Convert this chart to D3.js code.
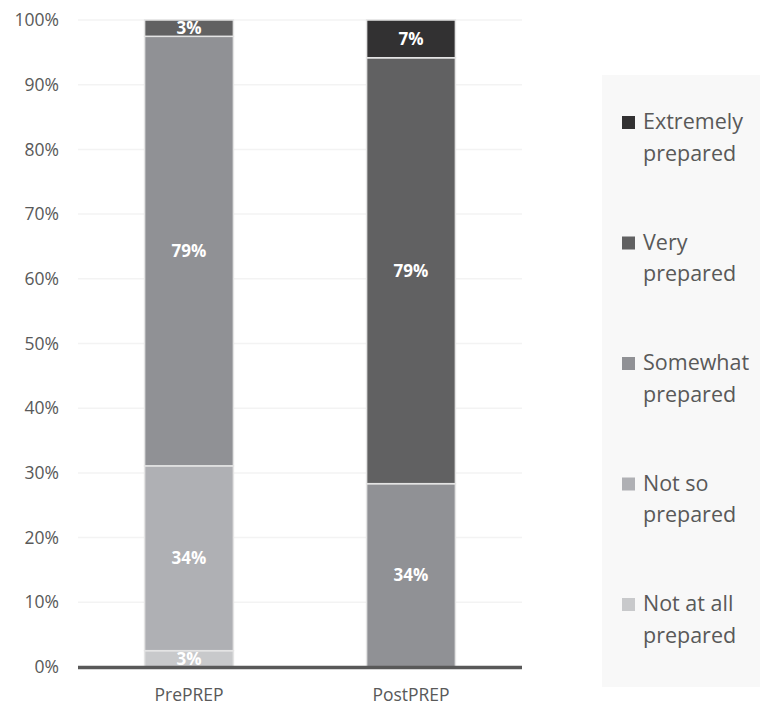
<!DOCTYPE html>
<html><head><meta charset="utf-8">
<script src="https://cdn.jsdelivr.net/npm/d3@7"></script>
<style>body{margin:0;background:#fff;} text{font-family:"Open Sans",sans-serif;}</style>
</head><body>
<svg id="c" width="760" height="706"></svg>
<script>
const categories = ["PrePREP", "PostPREP"];
const seriesNames = ["Not at all prepared", "Not so prepared", "Somewhat prepared", "Very prepared", "Extremely prepared"];
const legendLines = [["Not at all", "prepared"], ["Not so", "prepared"], ["Somewhat", "prepared"], ["Very", "prepared"], ["Extremely", "prepared"]];
const notAtAll = [3, 0];
const notSo = [34, 0];
const somewhat = [79, 34];
const very = [3, 79];
const extremely = [0, 7];
const colors = ["#c8c9cb", "#afb0b4", "#909195", "#616162", "#323132"];
const yTicks = [0, 0.1, 0.2, 0.3, 0.4, 0.5, 0.6, 0.7, 0.8, 0.9, 1.0];

const svg = d3.select("#c");
const x0 = 78, x1 = 522, yTop = 20, yBot = 667;
const x = d3.scaleBand().domain(categories).range([x0, x1]).paddingInner(0.6).paddingOuter(0.3);
const y = d3.scaleLinear().domain([0, 1]).range([yBot, yTop]);

// gridlines
svg.append("g").selectAll("line").data(yTicks).join("line")
  .attr("x1", x0).attr("x2", x1).attr("y1", d => y(d)).attr("y2", d => y(d))
  .attr("stroke", "#f3f3f3").attr("stroke-width", 1.5);

// y axis labels
const yAxis = d3.axisLeft(y).tickValues(yTicks).tickFormat(d3.format(".0%")).tickSize(0).tickPadding(0);
const ya = svg.append("g").attr("transform", `translate(59,0)`).call(yAxis);
ya.select(".domain").remove();
ya.selectAll("text").attr("font-size", 17.5).attr("fill", "#595959").attr("font-family", "Open Sans");

const rows = categories.map((c, i) => ({cat: c, vals: [notAtAll[i], notSo[i], somewhat[i], very[i], extremely[i]]}));
const stackData = rows.map(r => {
  const total = d3.sum(r.vals);
  const o = {cat: r.cat};
  r.vals.forEach((v, k) => { o["s" + k] = v / total; o["v" + k] = v; });
  return o;
});
const keys = seriesNames.map((_, k) => "s" + k);
const stacked = d3.stack().keys(keys)(stackData);

const g = svg.append("g");
stacked.forEach((layer, k) => {
  layer.forEach(seg => {
    const v = seg.data["v" + k];
    if (!v) return;
    const cat = seg.data.cat;
    const yA = y(seg[1]), yB = y(seg[0]);
    g.append("rect").attr("x", x(cat)).attr("width", x.bandwidth())
      .attr("y", yA).attr("height", yB - yA)
      .attr("fill", colors[k]).attr("stroke", "#e4e4e4").attr("stroke-width", 1.5);
    g.append("text").attr("x", x(cat) + x.bandwidth() / 2).attr("y", (yA + yB) / 2)
      .attr("dy", "0.36em").attr("text-anchor", "middle")
      .attr("font-size", 17).attr("font-weight", "bold").attr("fill", "#fff")
      .text(v + "%");
  });
});

// x axis line
svg.append("line").attr("x1", x0).attr("x2", x1).attr("y1", yBot + 0.5).attr("y2", yBot + 0.5)
  .attr("stroke", "#595959").attr("stroke-width", 3.5);

const xAxis = d3.axisBottom(x).tickSize(0).tickPadding(0);
const xa = svg.append("g").attr("transform", `translate(0,701)`).call(xAxis);
xa.select(".domain").remove();
xa.selectAll("text").attr("font-size", 17.5).attr("fill", "#595959").attr("dy", 0).attr("font-family", "Open Sans");

// legend
svg.append("rect").attr("x", 602).attr("y", 75).attr("width", 170).attr("height", 612).attr("fill", "#f8f8f8");
const legOrder = [4, 3, 2, 1, 0];
const legY = d3.scalePoint().domain(legOrder).range([129, 611]);
legOrder.forEach(k => {
  const yy = legY(k);
  svg.append("rect").attr("x", 622).attr("y", yy - 13).attr("width", 13).attr("height", 13).attr("fill", colors[k]);
  const t = svg.append("text").attr("x", 643).attr("y", yy).attr("font-size", 21.5).attr("fill", "#595959");
  legendLines[k].forEach((ln, i) => t.append("tspan").attr("x", 643).attr("dy", i ? 31.5 : 0).text(ln));
});
</script>
</body></html>
